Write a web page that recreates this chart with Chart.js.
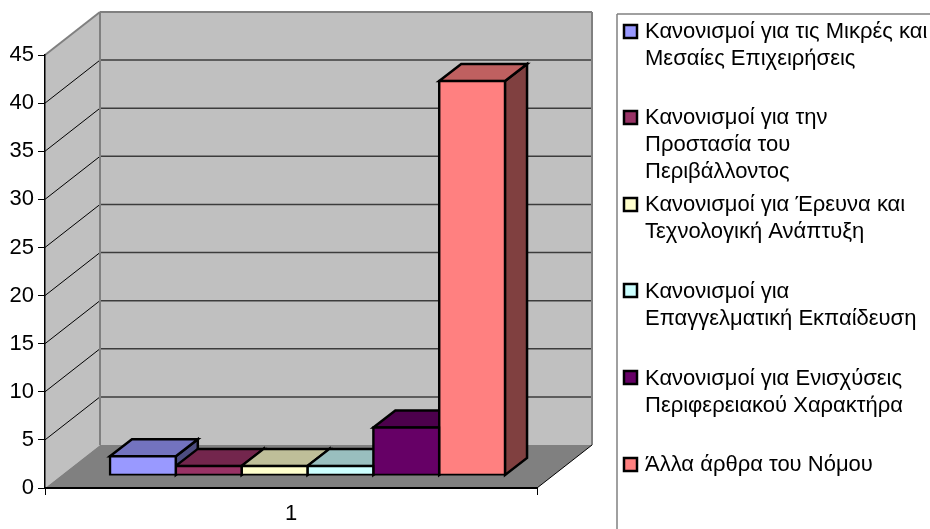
<!DOCTYPE html>
<html><head><meta charset="utf-8">
<style>html,body{margin:0;padding:0;background:#fff}canvas{display:block}</style>
<script src="https://cdn.jsdelivr.net/npm/chart.js@4"></script></head>
<body><canvas id="c" width="930" height="529"></canvas>
<script>
const categories = ["1"];
const seriesNames = [
  "Κανονισμοί για τις Μικρές και Μεσαίες Επιχειρήσεις",
  "Κανονισμοί για την Προστασία του Περιβάλλοντος",
  "Κανονισμοί για Έρευνα και Τεχνολογική Ανάπτυξη",
  "Κανονισμοί για Επαγγελματική Εκπαίδευση",
  "Κανονισμοί για Ενισχύσεις Περιφερειακού Χαρακτήρα",
  "Άλλα άρθρα του Νόμου"
];
const seriesValues = [2, 1, 1, 1, 5, 41];
const seriesColors = ["#9999FF", "#993366", "#FFFFCC", "#CCFFFF", "#660066", "#FF8080"];
const legendLines = [
  ["Κανονισμοί για τις Μικρές και", "Μεσαίες Επιχειρήσεις"],
  ["Κανονισμοί για την", "Προστασία του", "Περιβάλλοντος"],
  ["Κανονισμοί για Έρευνα και", "Τεχνολογική Ανάπτυξη"],
  ["Κανονισμοί για", "Επαγγελματική Εκπαίδευση"],
  ["Κανονισμοί για Ενισχύσεις", "Περιφερειακού Χαρακτήρα"],
  ["Άλλα άρθρα του Νόμου"]
];
const FONT = '"Liberation Sans", Arial, sans-serif';
const FONT_SIZE = 22;
const WALL_DX = 55, WALL_DY = -43;       // back wall offset from the front plane
const BAR_DX = 16.5, BAR_DY = -12.5;     // front face of bars from the front plane
const BAR_DEPTH_X = 22, BAR_DEPTH_Y = -17;

function shade(hex, f) {
  const n = parseInt(hex.slice(1), 16);
  const c = [(n >> 16) & 255, (n >> 8) & 255, n & 255].map(v => Math.round(v * f));
  return `rgb(${c[0]},${c[1]},${c[2]})`;
}
function poly(ctx, pts, fill, stroke, lw) {
  ctx.beginPath();
  pts.forEach((p, i) => i ? ctx.lineTo(p[0], p[1]) : ctx.moveTo(p[0], p[1]));
  ctx.closePath();
  if (fill) { ctx.fillStyle = fill; ctx.fill(); }
  if (stroke) { ctx.strokeStyle = stroke; ctx.lineWidth = lw; ctx.lineJoin = 'miter'; ctx.stroke(); }
}
function line(ctx, x1, y1, x2, y2, color, lw) {
  ctx.beginPath(); ctx.moveTo(x1, y1); ctx.lineTo(x2, y2);
  ctx.strokeStyle = color; ctx.lineWidth = lw; ctx.stroke();
}

const walls = {
  id: 'walls',
  beforeDraw(chart) {
    const { ctx, scales: { x, y } } = chart;
    const L = x.left, R = x.right, B = y.getPixelForValue(0), T = y.getPixelForValue(45);
    const dx = WALL_DX, dy = WALL_DY;
    ctx.save();
    poly(ctx, [[L + dx, T + dy], [R + dx, T + dy], [R + dx, B + dy], [L + dx, B + dy]], '#C0C0C0');
    poly(ctx, [[L, T], [L + dx, T + dy], [L + dx, B + dy], [L, B]], '#C0C0C0');
    poly(ctx, [[L, B], [L + dx, B + dy], [R + dx, B + dy], [R, B]], '#808080');
    y.ticks.forEach(t => {
      if (t.value === 0 || t.value === 45) return;
      const p = y.getPixelForValue(t.value);
      line(ctx, L, p, L + dx, p + dy, '#000', 1);
      line(ctx, L + dx, p + dy, R + dx, p + dy, '#3c3c3c', 1.5);
    });
    line(ctx, L, T, L + dx, T + dy, '#808080', 2);
    line(ctx, L + dx, T + dy, R + dx, T + dy, '#808080', 2);
    line(ctx, L + dx, T + dy, L + dx, B + dy, '#808080', 2);
    line(ctx, R + dx, T + dy, R + dx, B + dy, '#808080', 2);
    line(ctx, R, B, R + dx, B + dy, '#000', 1);
    ctx.restore();
  },
  beforeDatasetsDraw(chart) {
    const ctx = chart.ctx;
    ctx.save();
    ctx.translate(BAR_DX, BAR_DY);
    chart.data.datasets.forEach((ds, i) => {
      const el = chart.getDatasetMeta(i).data[0];
      const l = el.x - el.width / 2, r = el.x + el.width / 2, t = el.y, b = el.base;
      const dx = BAR_DEPTH_X, dy = BAR_DEPTH_Y;
      poly(ctx, [[r, t], [r + dx, t + dy], [r + dx, b + dy], [r, b]], shade(ds.backgroundColor, 0.5), '#000', 2.5);
      poly(ctx, [[l, t], [l + dx, t + dy], [r + dx, t + dy], [r, t]], shade(ds.backgroundColor, 0.75), '#000', 2.5);
    });
  },
  afterDatasetsDraw(chart) { chart.ctx.restore(); }
};

const legendPanel = {
  id: 'legendPanel',
  afterDraw(chart) {
    const ctx = chart.ctx;
    const swatchY = [24, 110, 197, 283, 370, 457];
    const baselines = [[38, 65], [124, 151, 178], [211, 238], [298, 325], [385, 412], [471]];
    ctx.save();
    line(ctx, 930, 14, 617, 14, '#808080', 1.5);
    line(ctx, 617, 14, 617, 529, '#808080', 1.5);
    ctx.font = FONT_SIZE + 'px ' + FONT;
    ctx.textBaseline = 'alphabetic';
    ctx.textAlign = 'left';
    legendLines.forEach((lines, i) => {
      ctx.fillStyle = seriesColors[i];
      ctx.strokeStyle = '#000';
      ctx.lineWidth = 2.5;
      ctx.fillRect(624, swatchY[i] + 1, 13, 13);
      ctx.strokeRect(624, swatchY[i] + 1, 13, 13);
      ctx.fillStyle = '#000';
      lines.forEach((s, j) => ctx.fillText(s, 645, baselines[i][j]));
    });
    ctx.restore();
  }
};

new Chart(document.getElementById('c'), {
  type: 'bar',
  data: {
    labels: categories,
    datasets: seriesNames.map((n, i) => ({
      label: n, data: [seriesValues[i]],
      backgroundColor: seriesColors[i], borderColor: '#000', borderWidth: 2.5,
      borderSkipped: false, inflateAmount: 1.25,
      categoryPercentage: 0.803, barPercentage: 1
    }))
  },
  options: {
    responsive: false, animation: false, devicePixelRatio: 1,
    layout: { padding: { top: 55, right: 393, left: 0, bottom: 0 } },
    plugins: { legend: { display: false }, tooltip: { enabled: false } },
    scales: {
      x: {
        afterFit: s => { s.height = 41; },
        grid: { drawOnChartArea: false, drawTicks: true, tickLength: 7, color: '#000' },
        border: { color: '#000', width: 2 },
        ticks: { color: '#000', font: { family: FONT, size: FONT_SIZE }, padding: 6 }
      },
      y: {
        min: 0, max: 45,
        afterFit: s => { s.width = 45; },
        grid: { drawOnChartArea: false, drawTicks: true, tickLength: 7, color: '#000' },
        border: { color: '#000', width: 1.5 },
        ticks: { stepSize: 5, color: '#000', font: { family: FONT, size: FONT_SIZE }, padding: 4 }
      }
    }
  },
  plugins: [walls, legendPanel]
});
</script></body></html>
